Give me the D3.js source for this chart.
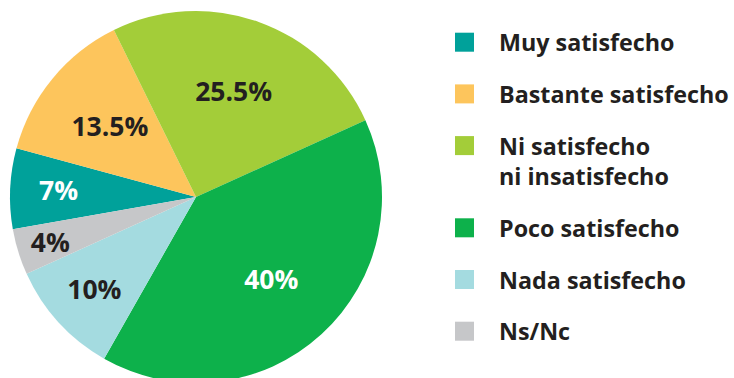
<!DOCTYPE html>
<html>
<head>
<meta charset="utf-8">
<script src="https://cdn.jsdelivr.net/npm/d3@7"></script>
<style>
  html, body { margin: 0; padding: 0; background: #fff; }
  svg { display: block; }
  text { font-family: "Open Sans", Lato, sans-serif; font-weight: 700; }
</style>
</head>
<body>
<svg id="chart" width="734" height="378"></svg>
<script>
// Satisfaction survey answers, percent of respondents
const categories = [
  ["Muy satisfecho"],
  ["Bastante satisfecho"],
  ["Ni satisfecho", "ni insatisfecho"],
  ["Poco satisfecho"],
  ["Nada satisfecho"],
  ["Ns/Nc"]
];
const percentages = [7, 13.5, 25.5, 40, 10, 4];

const palette = ["#00a19a", "#fdc55c", "#a3cd39", "#0db14b", "#a4dbe0", "#c6c7c9"];
const ink = "#231f20";

const svg = d3.select("#chart");
const cx = 196, cy = 197, R = 186;

const color = d3.scaleOrdinal().domain(d3.range(categories.length)).range(palette);

const start = 260 * Math.PI / 180;
const pie = d3.pie().sort(null).value(i => percentages[i])
  .startAngle(start).endAngle(start + 2 * Math.PI);
const arcs = pie(d3.range(percentages.length));
const arc = d3.arc().innerRadius(0).outerRadius(R);

const g = svg.append("g").attr("transform", `translate(${cx},${cy})`);

g.selectAll("path.slice")
  .data(arcs)
  .join("path")
  .attr("class", "slice")
  .attr("d", arc)
  .attr("fill", d => color(d.data));

// Percentage labels: narrow slices push their label further out
const labelRadius = d => {
  const span = d.endAngle - d.startAngle;
  return R * (span < 0.3 ? 0.82 : span < 0.7 ? 0.74 : 0.6);
};
g.selectAll("text.value")
  .data(arcs)
  .join("text")
  .attr("class", "value")
  .attr("transform", d => {
    const r = labelRadius(d);
    return `translate(${d3.arc().innerRadius(r).outerRadius(r).centroid(d)})`;
  })
  .attr("text-anchor", "middle")
  .attr("dy", "0.36em")
  .attr("font-size", 26.5)
  .attr("fill", d => d3.hsl(color(d.data)).l < 0.45 ? "#ffffff" : ink)
  .text(d => `${percentages[d.data]}%`);

// Legend
const legendX = 455, swatch = 19, rowGap = 51.7, lineGap = 30.5;
let y = 32.7;
const legend = svg.append("g");
categories.forEach((lines, i) => {
  legend.append("rect")
    .attr("x", legendX).attr("y", y)
    .attr("width", swatch).attr("height", swatch)
    .attr("fill", color(i));
  const t = legend.append("text")
    .attr("x", legendX + 44).attr("y", y + swatch - 0.5)
    .attr("font-size", 23.3)
    .attr("fill", ink);
  lines.forEach((line, j) => {
    t.append("tspan")
      .attr("x", legendX + 44)
      .attr("dy", j === 0 ? 0 : lineGap)
      .text(line);
  });
  y += rowGap + (lines.length - 1) * lineGap;
});
</script>
</body>
</html>
